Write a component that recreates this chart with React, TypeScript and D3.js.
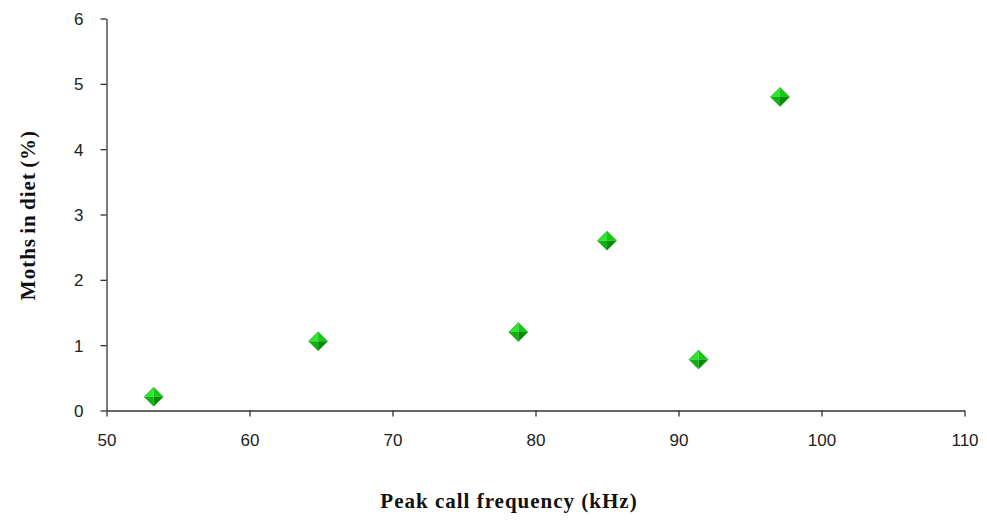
import React, { useRef, useEffect } from 'react';
import * as d3 from 'd3';

const peakFrequency: number[] = [53.3, 64.8, 78.8, 85.0, 91.4, 97.1];
const mothsInDiet: number[] = [0.21, 1.06, 1.2, 2.6, 0.78, 4.8];
const xTicks: number[] = [50, 60, 70, 80, 90, 100, 110];
const yTicks: number[] = [0, 1, 2, 3, 4, 5, 6];
const xTitle = 'Peak call frequency (kHz)';
const yTitle = 'Moths in diet (%)';

const width = 987;
const height = 522;

function App() {
    const ref = useRef(null);

    useEffect(() => {
        if (!ref.current) return;
        const svg = d3.select(ref.current);
        svg.selectAll('*').remove();

        const x = d3.scaleLinear().domain([50, 110]).range([106.5, 964.5]);
        const y = d3.scaleLinear().domain([0, 6]).range([410.5, 18.5]);

        const xAxis = svg.append('g')
            .attr('transform', `translate(0,${y(0)})`)
            .call(d3.axisBottom(x).tickValues(xTicks).tickSize(6).tickSizeOuter(0).tickPadding(17).tickFormat(d3.format('d')));
        const yAxis = svg.append('g')
            .attr('transform', `translate(${x(50)},0)`)
            .call(d3.axisLeft(y).tickValues(yTicks).tickSize(6).tickSizeOuter(0).tickPadding(17).tickFormat(d3.format('d')));

        [xAxis, yAxis].forEach(a => {
            a.select('.domain').attr('stroke', '#333').attr('stroke-width', 1.3);
            a.selectAll('.tick line').attr('stroke', '#333').attr('stroke-width', 1.3);
            a.selectAll('.tick text')
                .attr('font-family', 'Liberation Sans, Arial, sans-serif')
                .attr('font-size', 17)
                .attr('fill', '#222');
        });
        yAxis.selectAll('.tick text').attr('dy', '0.35em');

        // diamond markers with four shaded facets
        const r = 9.5;
        const facets = [
            { pts: [[-r, 0], [0, -r], [0, 0]], fill: '#2ee62e' },
            { pts: [[0, -r], [r, 0], [0, 0]], fill: '#14c814' },
            { pts: [[-r, 0], [0, r], [0, 0]], fill: '#0fb00f' },
            { pts: [[0, r], [r, 0], [0, 0]], fill: '#048a04' },
        ];
        const pts = peakFrequency.map((f, i) => ({ f, m: mothsInDiet[i] }));
        const g = svg.append('g').selectAll('g')
            .data(pts)
            .join('g')
            .attr('transform', d => `translate(${x(d.f)},${y(d.m)})`);
        facets.forEach(fc => {
            g.append('path')
                .attr('d', 'M' + fc.pts.map(p => p.join(',')).join('L') + 'Z')
                .attr('fill', fc.fill);
        });
        g.append('path')
            .attr('d', `M${-r},0L0,${-r}L${r},0L0,${r}Z`)
            .attr('fill', 'none')
            .attr('stroke', '#1a9a1a')
            .attr('stroke-width', 0.6);

        svg.append('text')
            .attr('x', 509)
            .attr('y', 508)
            .attr('text-anchor', 'middle')
            .attr('font-family', 'Liberation Serif, Times New Roman, serif')
            .attr('font-weight', 'bold')
            .attr('font-size', 21)
            .attr('letter-spacing', 1)
            .attr('fill', '#111')
            .text(xTitle);

        svg.append('text')
            .attr('transform', `translate(35,215) rotate(-90)`)
            .attr('text-anchor', 'middle')
            .attr('font-family', 'Liberation Serif, Times New Roman, serif')
            .attr('font-weight', 'bold')
            .attr('font-size', 21)
            .attr('letter-spacing', 1)
            .attr('word-spacing', -2)
            .attr('fill', '#111')
            .text(yTitle);
    }, []);

    return (
        <svg
            ref={ref}
            width={width}
            height={height}
            style={{ position: 'absolute', left: 0, top: 0, background: '#fff' }}
        />
    );
}

export default App;
